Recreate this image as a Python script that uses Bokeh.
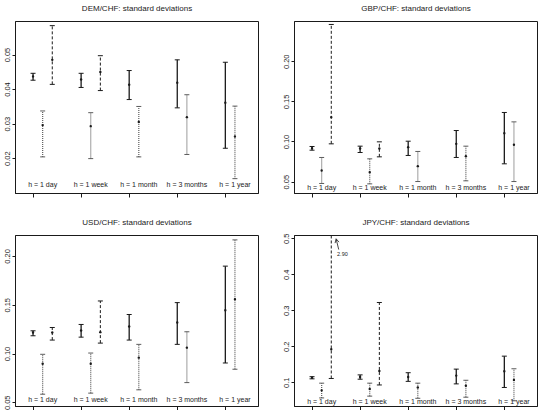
from bokeh.plotting import figure
from bokeh.layouts import gridplot
from bokeh.models import (ColumnDataSource, FixedTicker, Arrow, OpenHead, Label, Range1d,
                          LinearAxis)
from bokeh.core.properties import value
from bokeh.embed import file_html
from bokeh.resources import INLINE

FONT = "Liberation Sans"
INK = "#1a1a1a"

horizons = ["h = 1 day", "h = 1 week", "h = 1 month", "h = 3 months", "h = 1 year"]
positions = [1, 2, 3, 4, 5]

# (lower, estimate, upper) for each horizon; None where no interval is reported
dem_solid = [(0.0427, 0.0438, 0.0447), (0.0406, 0.0429, 0.0447), (0.0371, 0.0414, 0.0455),
             (0.0347, 0.0420, 0.0486), (0.0230, 0.0362, 0.0479)]
dem_dotted = [(0.0205, 0.0297, 0.0338), (0.0200, 0.0294, 0.0333), (0.0205, 0.0306, 0.0351),
              (0.0212, 0.0320, 0.0385), (0.0142, 0.0264, 0.0352)]
dem_dashed = [(0.0415, 0.0486, 0.0585), (0.0397, 0.0451, 0.0498), None, None, None]

gbp_solid = [(0.0898, 0.0923, 0.0944), (0.0869, 0.0919, 0.0948), (0.0832, 0.0936, 0.1010),
             (0.0807, 0.0977, 0.1143), (0.0728, 0.1110, 0.1368)]
gbp_dotted = [(0.0483, 0.0645, 0.0807), (0.0478, 0.0624, 0.0790), (0.0507, 0.0699, 0.0882),
              (0.0516, 0.0823, 0.0948), (0.0507, 0.0965, 0.1251)]
gbp_dashed = [(0.0977, 0.1310, 0.2465), (0.0815, 0.0919, 0.1002), None, None, None]

usd_solid = [(0.1187, 0.1221, 0.1238), (0.1173, 0.1241, 0.1303), (0.1143, 0.1282, 0.1405),
             (0.1099, 0.1323, 0.1527), (0.0908, 0.1449, 0.1901)]
usd_dotted = [(0.0588, 0.0901, 0.0997), (0.0599, 0.0901, 0.1010), (0.0633, 0.0963, 0.1099),
              (0.0707, 0.1065, 0.1228), (0.0844, 0.1561, 0.2170)]
usd_dashed = [(0.1143, 0.1221, 0.1272), (0.1112, 0.1224, 0.1544), None, None, None]

jpy_solid = [(0.111, 0.114, 0.117), (0.110, 0.116, 0.122), (0.104, 0.116, 0.128),
             (0.097, 0.120, 0.138), (0.087, 0.132, 0.174)]
jpy_dotted = [(0.058, 0.079, 0.099), (0.063, 0.083, 0.099), (0.057, 0.087, 0.099),
              (0.060, 0.092, 0.107), (0.050, 0.108, 0.139)]
jpy_dashed = [(0.112, 0.193, 2.90), (0.094, 0.133, 0.323), None, None, None]

dem_ticks = [0.02, 0.03, 0.04, 0.05]
dem_tick_labels = ["0.02", "0.03", "0.04", "0.05"]
gbp_ticks = [0.05, 0.10, 0.15, 0.20]
gbp_tick_labels = ["0.05", "0.10", "0.15", "0.20"]
usd_ticks = [0.05, 0.10, 0.15, 0.20]
usd_tick_labels = ["0.05", "0.10", "0.15", "0.20"]
jpy_ticks = [0.1, 0.2, 0.3, 0.4, 0.5]
jpy_tick_labels = ["0.1", "0.2", "0.3", "0.4", "0.5"]

# line style per interval type: (x offset inside a horizon group, colour, dash, width)
STYLES = [(0.0, INK, "solid", 1.3), (0.2, "#5c5c5c", "1 1", 1.2), (0.4, INK, "3 2", 1.0)]
X0, X1 = 0.635, 5.69


def panel(title, series, ticks, tick_labels, yr, label_y, width, borders):
    left, right, top, bottom = borders
    p = figure(width=width, height=205, output_backend="svg", toolbar_location=None,
               x_range=Range1d(X0, X1), y_range=Range1d(*yr),
               min_border_left=left, min_border_right=right,
               min_border_top=top, min_border_bottom=bottom,
               background_fill_color="white", border_fill_color="white")
    p.grid.visible = False
    p.outline_line_color = INK
    p.outline_line_width = 1
    p.outline_line_alpha = 1

    # horizon groups are marked by bare ticks below the frame
    xa = p.below[0]
    xa.ticker = FixedTicker(ticks=positions)
    xa.major_label_overrides = {t: "" for t in positions}
    xa.major_label_text_font_size = "7px"
    xa.major_label_standoff = 0
    xa.major_tick_out = 4
    xa.major_tick_in = 0
    xa.minor_tick_line_color = None
    xa.axis_line_color = INK
    xa.major_tick_line_color = INK

    ya = p.left[0]
    ya.ticker = FixedTicker(ticks=ticks)
    ya.major_label_overrides = {t: s for t, s in zip(ticks, tick_labels)}
    ya.major_label_orientation = "vertical"
    ya.major_label_text_font = FONT
    ya.major_label_text_font_size = "7.5px"
    ya.major_label_text_color = INK
    ya.major_label_standoff = 2
    ya.major_tick_out = 3
    ya.major_tick_in = 0
    ya.minor_tick_line_color = None
    ya.axis_line_color = INK
    ya.major_tick_line_color = INK

    # panel heading: carried by a tickless axis along the top edge
    head = LinearAxis(ticker=FixedTicker(ticks=[]), axis_label=title,
                      axis_line_color=None, major_tick_line_color=None,
                      minor_tick_line_color=None, major_tick_out=0, major_tick_in=0,
                      major_label_standoff=0, major_label_text_font_size="7px",
                      axis_label_standoff=9,
                      axis_label_text_font=FONT, axis_label_text_font_size="8px",
                      axis_label_text_font_style="normal", axis_label_text_color=INK)
    p.add_layout(head, "above")

    for data, (off, color, dash, lw) in zip(series, STYLES):
        xs, lo, mid, hi = [], [], [], []
        for pos, item in zip(positions, data):
            if item is None:
                continue
            xs.append(pos + off)
            lo.append(item[0])
            mid.append(item[1])
            hi.append(item[2])
        src = ColumnDataSource(dict(x=xs, lo=lo, mid=mid, hi=hi))
        p.segment(x0="x", y0="lo", x1="x", y1="hi", source=src,
                  line_color=color, line_width=lw, line_dash=dash)
        for end in ("lo", "hi"):
            p.scatter(x="x", y=end, source=src, marker="dash", size=5,
                      line_color=color, line_width=1)
        p.scatter(x="x", y="mid", source=src, marker="circle", size=2.4,
                  fill_color=INK, line_color=None)

    lab_src = ColumnDataSource(dict(x=[v + 0.2 for v in positions],
                                    y=[label_y] * len(horizons), text=horizons))
    p.text(x="x", y="y", text="text", source=lab_src, text_align="center",
           text_baseline="middle", text_font=value(FONT), text_font_size="7px",
           text_color=INK)
    return p


p_dem = panel("DEM/CHF: standard deviations", [dem_solid, dem_dotted, dem_dashed],
              dem_ticks, dem_tick_labels, (0.0099, 0.0597), 0.0124, 270, (15, 12, 21, 12))
p_gbp = panel("GBP/CHF: standard deviations", [gbp_solid, gbp_dotted, gbp_dashed],
              gbp_ticks, gbp_tick_labels, (0.0358, 0.2502), 0.0429, 269, (24, 2, 21, 12))
p_usd = panel("USD/CHF: standard deviations", [usd_solid, usd_dotted, usd_dashed],
              usd_ticks, usd_tick_labels, (0.0462, 0.2215), 0.0535, 270, (15, 12, 30, 4))
p_jpy = panel("JPY/CHF: standard deviations", [jpy_solid, jpy_dotted, jpy_dashed],
              jpy_ticks, jpy_tick_labels, (0.0342, 0.509), 0.048, 269, (24, 2, 30, 4))

# the 1-day dashed interval for JPY runs far above the panel: mark its upper bound
off = STYLES[2][0]
top_val = jpy_dashed[0][2]
p_jpy.add_layout(Arrow(end=OpenHead(size=4, line_width=0.8, line_color=INK),
                       x_start=positions[0] + off + 0.155, y_start=0.470,
                       x_end=positions[0] + off + 0.10, y_end=0.500,
                       line_width=0.8, line_color=INK))
p_jpy.add_layout(Label(x=positions[0] + off + 0.12, y=0.458, text=f"{top_val:.2f}",
                       text_font=FONT, text_font_size="5.5px", text_color=INK,
                       text_baseline="middle"))

grid = gridplot([[p_dem, p_gbp], [p_usd, p_jpy]], toolbar_location=None)

with open("out.html", "w") as f:
    f.write(file_html(grid, INLINE))
